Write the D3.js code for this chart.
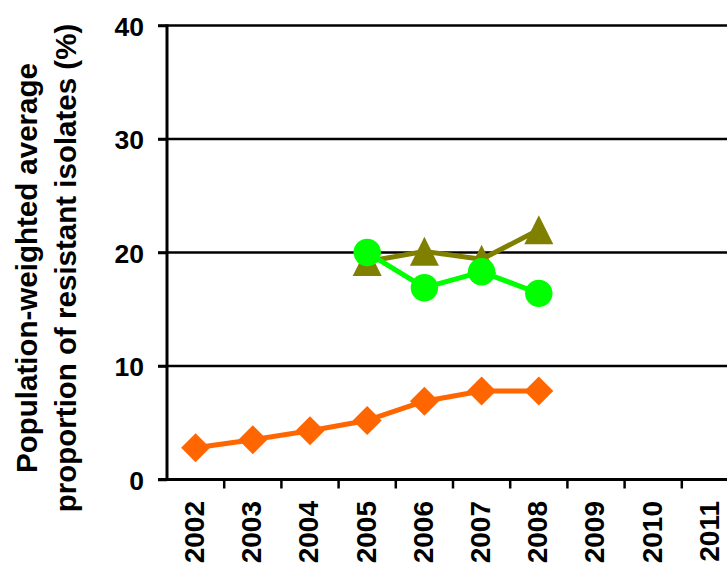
<!DOCTYPE html>
<html>
<head>
<meta charset="utf-8">
<script src="https://cdn.jsdelivr.net/npm/d3@7/dist/d3.min.js"></script>
<style>
  html, body { margin: 0; padding: 0; background: #fff; }
  svg { display: block; }
  text { font-family: "Liberation Sans", Arial, sans-serif; font-weight: bold; fill: #000; }
</style>
</head>
<body>
<svg id="chart" width="727" height="563"></svg>
<script>
// Years on the category axis
const years = ["2002", "2003", "2004", "2005", "2006", "2007", "2008", "2009", "2010", "2011"];

// Population-weighted average resistance (%) per series
const orangeYears = ["2002", "2003", "2004", "2005", "2006", "2007", "2008"];
const orangeValues = [2.8, 3.5, 4.3, 5.2, 6.9, 7.8, 7.8];

const oliveYears = ["2005", "2006", "2007", "2008"];
const oliveValues = [19.2, 20.1, 19.4, 22.0];

const greenYears = ["2005", "2006", "2007", "2008"];
const greenValues = [20.0, 16.9, 18.3, 16.4];

// Value axis ticks
const yTicks = [0, 10, 20, 30, 40];

const titleLines = ["Population-weighted average", "proportion of resistant isolates (%)"];

const W = 727, H = 563;
const plotLeft = 167, plotTop = 25.5, plotBottom = 479.5;
const band = 57.2;

const svg = d3.select("#chart");

const x = d3.scaleBand()
  .domain(years)
  .range([plotLeft, plotLeft + band * years.length])
  .paddingInner(0).paddingOuter(0);

const y = d3.scaleLinear().domain([0, 40]).range([plotBottom, plotTop]);

// Horizontal gridlines (with the small tick stub left of the axis)
svg.append("g").selectAll("line.grid")
  .data(yTicks.filter(d => d > 0))
  .join("line")
  .attr("x1", plotLeft - 9).attr("x2", W)
  .attr("y1", d => y(d)).attr("y2", d => y(d))
  .attr("stroke", "#000").attr("stroke-width", 2.5);

// Value axis
const yAxis = d3.axisLeft(y).tickValues(yTicks).tickSize(9).tickPadding(14).tickFormat(d3.format("d"));
const gy = svg.append("g").attr("transform", `translate(${plotLeft},0)`).call(yAxis);
gy.select(".domain").remove();
gy.selectAll(".tick line").attr("stroke", "#000").attr("stroke-width", 2.5);
gy.selectAll(".tick text").attr("font-size", 26.5).attr("font-family", null).attr("dy", "0.36em");
gy.attr("font-family", null);

// Axis lines
svg.append("line")
  .attr("x1", plotLeft).attr("x2", plotLeft)
  .attr("y1", plotTop - 1).attr("y2", plotBottom + 1)
  .attr("stroke", "#000").attr("stroke-width", 3);

// Category axis: ticks between categories, labels rotated
const xAxis = d3.axisBottom(x).tickSize(0).tickPadding(0);
const gx = svg.append("g").attr("transform", `translate(0,${plotBottom})`).call(xAxis);
gx.attr("font-family", null);
gx.select(".domain").remove();
gx.selectAll(".tick text")
  .attr("font-size", 28)
  .attr("font-family", null)
  .attr("text-anchor", "end")
  .attr("dy", "0.3em")
  .attr("y", 0)
  .attr("transform", "translate(0,21.5) rotate(-90)");

svg.append("g").selectAll("line.xtick")
  .data(years.slice(1))
  .join("line")
  .attr("x1", d => x(d)).attr("x2", d => x(d))
  .attr("y1", plotBottom).attr("y2", plotBottom + 9)
  .attr("stroke", "#000").attr("stroke-width", 2.5);

svg.append("line")
  .attr("x1", plotLeft - 9).attr("x2", W)
  .attr("y1", plotBottom).attr("y2", plotBottom)
  .attr("stroke", "#000").attr("stroke-width", 3);

// Value axis title
const title = svg.append("text")
  .attr("font-size", 29.5)
  .attr("text-anchor", "middle")
  .attr("transform", "translate(0,268) rotate(-90)");
title.selectAll("tspan")
  .data(titleLines)
  .join("tspan")
  .attr("x", 0)
  .attr("y", (d, i) => 36.5 + i * 39.5)
  .text(d => d);

// Triangle marker filling a square box
const boxTriangle = {
  draw(ctx, size) {
    const h = Math.sqrt(size) / 2;
    ctx.moveTo(0, -h);
    ctx.lineTo(h, h);
    ctx.lineTo(-h, h);
    ctx.closePath();
  }
};

const cx = d => x(d) + x.bandwidth() / 2;

function drawSeries(cats, vals, color, symbolType, size, rotate) {
  const pts = cats.map((c, i) => [cx(c), y(vals[i])]);
  svg.append("path")
    .attr("d", d3.line()(pts))
    .attr("fill", "none")
    .attr("stroke", color)
    .attr("stroke-width", 5)
    .attr("stroke-linejoin", "round");
  svg.append("g").selectAll("path")
    .data(pts)
    .join("path")
    .attr("transform", d => `translate(${d[0]},${d[1]})${rotate ? " rotate(45)" : ""}`)
    .attr("d", d3.symbol().type(symbolType).size(size))
    .attr("fill", color);
}

drawSeries(orangeYears, orangeValues, "#FF6600", d3.symbolSquare, 420, true);
drawSeries(oliveYears, oliveValues, "#808000", boxTriangle, 841, false);
drawSeries(greenYears, greenValues, "#00FF00", d3.symbolCircle, 590, false);
</script>
</body>
</html>
